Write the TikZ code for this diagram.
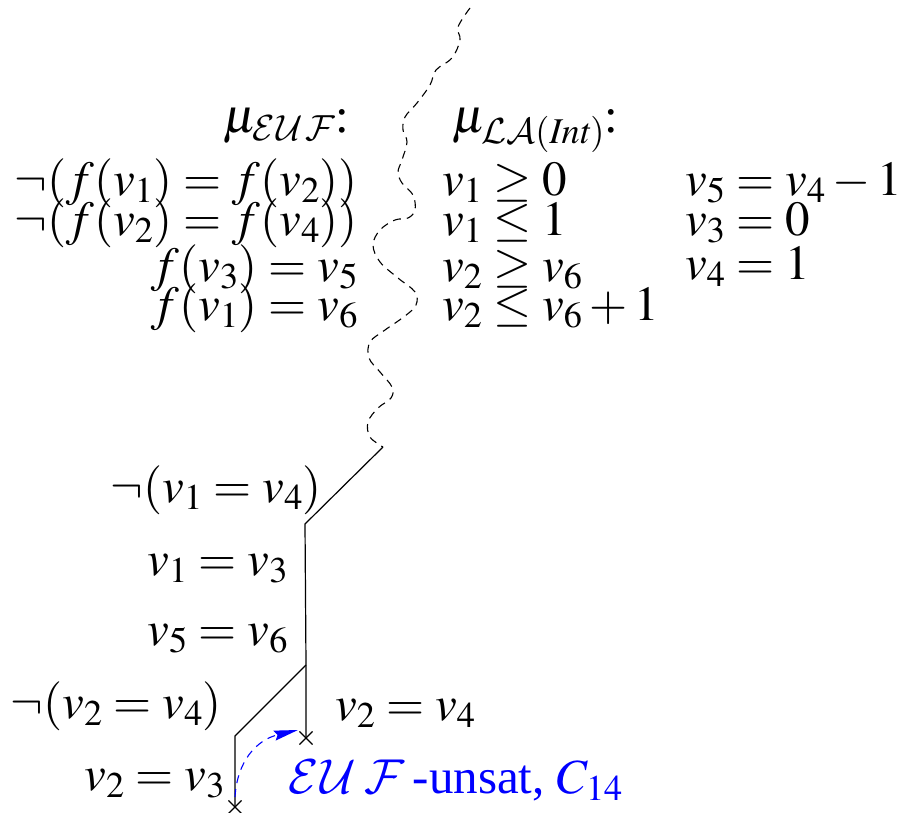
\RequirePackage{fix-cm}
\documentclass[tikz,border=0pt]{standalone}
\IfFileExists{mathptmx.sty}{\usepackage{mathptmx}}{}
\IfFileExists{omslmsy.fd}{\DeclareMathAlphabet{\mathcal}{OMS}{lmsy}{m}{n}}{\DeclareMathAlphabet{\mathcal}{OMS}{cmsy}{m}{n}}
\usepackage[no-math]{fontspec}
\setmainfont{Liberation Serif}
\usetikzlibrary{arrows.meta,shapes.misc}
\tikzset{
  lbl/.style={inner sep=0pt, outer sep=0pt, font=\fontsize{49}{59}\selectfont},
  tree/.style={line width=1.2pt},
  wavy/.style={line width=1.1pt, dash pattern=on 8pt off 6pt},
  xmark/.style={cross out, draw, line width=1.1pt, minimum size=12pt, inner sep=0pt},
  hint/.style={blue, line width=1.1pt, dash pattern=on 8pt off 6pt, -{Stealth[length=24pt,width=10pt,inset=3pt]}}
}
\begin{document}
\begin{tikzpicture}[x=1pt,y=-1pt]
\useasboundingbox (0,0) rectangle (912,813);
% headers
\node[lbl, anchor=base west] (heuf) at (223,133) {$\mu_{\mathcal{E}\mkern1mu\mathcal{U}\mkern1mu\mathcal{F}}$:};
\node[lbl, anchor=base west] (hla) at (452,133) {$\mu_{\mathcal{LA}(\mathit{Int})}$:};
% EUF column
\node[lbl, anchor=base east] (e1) at (358,195) {$\neg(f(v_1) = f(v_2))$};
\node[lbl, anchor=base east] (e2) at (358,235) {$\neg(f(v_2) = f(v_4))$};
\node[lbl, anchor=base east] (e3) at (358,281) {$f(v_3) = v_5$};
\node[lbl, anchor=base east] (e4) at (358,320) {$f(v_1) = v_6$};
% LA column
\node[lbl, anchor=base west] (l1) at (442,195) {$v_1 \geq 0$};
\node[lbl, anchor=base west] (l2) at (442,235) {$v_1 \leq 1$};
\node[lbl, anchor=base west] (l3) at (442,281) {$v_2 \geq v_6$};
\node[lbl, anchor=base west] (l4) at (442,320) {$v_2 \leq v_6 + 1$};
\node[lbl, anchor=base west] (r1) at (685,195) {$v_5 = v_4 - 1$};
\node[lbl, anchor=base west] (r2) at (685,235) {$v_3 = 0$};
\node[lbl, anchor=base west] (r3) at (685,279) {$v_4 = 1$};
% tree
\coordinate (w0) at (383,447);
\coordinate (a) at (305,524);
\coordinate (b) at (306,665);
\coordinate (xr) at (306,738);
\coordinate (c) at (235,736);
\coordinate (xl) at (235,807);
\draw[wavy] plot[smooth, tension=0.6] coordinates {
 (470,8) (458,27) (460,40) (452,58) (436,70) (430,85) (417,103) (405,117)
 (403,130) (407,142) (402,160) (398,172) (402,183) (413,195) (415,210)
 (408,218) (395,220) (380,230) (373,245) (380,262) (398,278) (415,292)
 (416,305) (405,316) (385,330) (370,342) (369,358) (380,372) (392,387)
 (391,398) (378,408) (368,422) (370,437) (383,447)};
\draw[tree] (w0) -- (a) -- (b) -- (xr);
\draw[tree] (b) -- (c) -- (xl);
\node[xmark] (xrm) at (xr) {};
\node[xmark] (xlm) at (xl) {};
\draw[hint] ([yshift=10pt]xl) .. controls (237,762) and (256,740) .. ([xshift=-8pt,yshift=8pt]xr);
% tree labels
\node[lbl, anchor=base east] (t1) at (322,502) {$\neg(v_1 = v_4)$};
\node[lbl, anchor=base east] (t2) at (288,575) {$v_1 = v_3$};
\node[lbl, anchor=base east] (t3) at (288,645) {$v_5 = v_6$};
\node[lbl, anchor=base east] (t4) at (222,718) {$\neg(v_2 = v_4)$};
\node[lbl, anchor=base west] (t5) at (335,720) {$v_2 = v_4$};
\node[lbl, anchor=base east] (t6) at (225,790) {$v_2 = v_3$};
\node[lbl, anchor=base west, text=blue] (t7) at (288,793) {$\mathcal{E}\mkern1mu\mathcal{U}\mkern3mu\mathcal{F}$\kern8pt-unsat, $C_{14}$};
\end{tikzpicture}
\end{document}
